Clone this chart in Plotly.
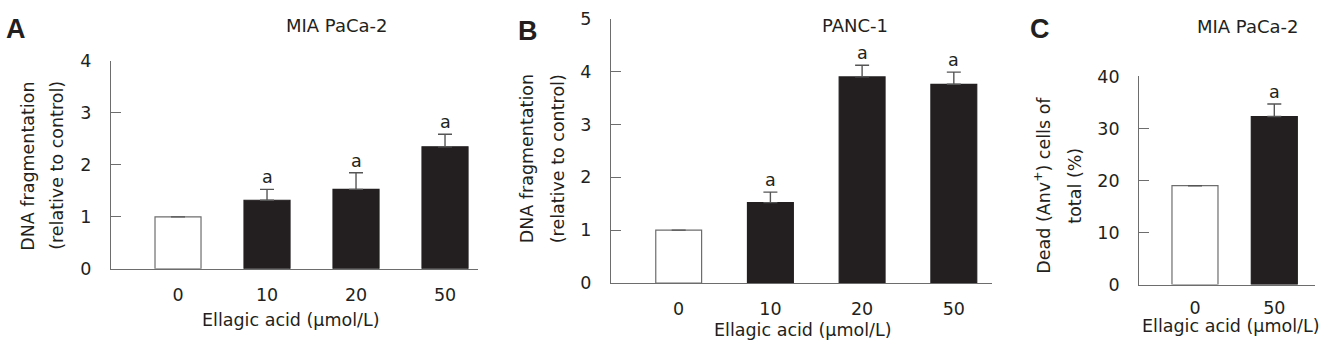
import plotly.graph_objects as go

# ---------------- data ----------------
a_doses = ["0", "10", "20", "50"]
a_values = [1.0, 1.32, 1.53, 2.35]
a_errors = [None, 0.21, 0.32, 0.24]
a_sig = ["", "a", "a", "a"]

b_doses = ["0", "10", "20", "50"]
b_values = [1.0, 1.52, 3.90, 3.76]
b_errors = [None, 0.20, 0.22, 0.23]
b_sig = ["", "a", "a", "a"]

c_doses = ["0", "50"]
c_values = [19.0, 32.3]
c_errors = [None, 2.4]
c_sig = ["", "a"]

W, H = 1328, 361
FONT = "DejaVu Sans"
TXT = "#231f20"
AX = "#6d6d6d"
BLACK = "#231f20"


def px(x):
    return x / W


def py(y):
    return 1 - y / H


panels = [
    dict(doses=a_doses, vals=a_values, errs=a_errors, sig=a_sig,
         xd=(111, 477.5), yd=(274, 54), xr=(-0.753, 3.365), yr=(0, 4), dt=1, bw=0.517, so=10),
    dict(doses=b_doses, vals=b_values, errs=b_errors, sig=b_sig,
         xd=(611, 991.7), yd=(289, 9.3), xr=(-0.738, 3.413), yr=(0, 5), dt=1, bw=0.50, so=10),
    dict(doses=c_doses, vals=c_values, errs=c_errors, sig=c_sig,
         xd=(1139.3, 1315), yd=(290.7, 70.3), xr=(-0.702, 1.513), yr=(0, 40), dt=10, bw=0.58, so=7),
]

fig = go.Figure()
layout = dict(
    width=W, height=H, margin=dict(l=0, r=0, t=0, b=0),
    paper_bgcolor="white", plot_bgcolor="white", showlegend=False,
    font=dict(family=FONT, size=17.5, color=TXT),
)
annotations = []

for i, p in enumerate(panels):
    n = i + 1
    xa = "x" if n == 1 else f"x{n}"
    ya = "y" if n == 1 else f"y{n}"
    colors = ["white" if j == 0 else BLACK for j in range(len(p["doses"]))]
    lines = [AX if j == 0 else BLACK for j in range(len(p["doses"]))]
    fig.add_trace(go.Bar(
        x=p["doses"], y=p["vals"], width=p["bw"],
        marker=dict(color=colors, line=dict(color=lines, width=1.2)),
        error_y=dict(type="data", symmetric=False, array=p["errs"],
                     arrayminus=[0] * len(p["vals"]),
                     color="#555555", thickness=1.4, width=7),
        xaxis=xa, yaxis=ya, hoverinfo="skip",
    ))
    for j, (v, e, s) in enumerate(zip(p["vals"], p["errs"], p["sig"])):
        if s:
            annotations.append(dict(
                x=j, y=v + (e or 0), xref=xa, yref=ya, text=s,
                showarrow=False, yanchor="middle", yshift=12,
                font=dict(family=FONT, size=17.5, color=TXT)))
    layout["xaxis" if n == 1 else f"xaxis{n}"] = dict(
        domain=[px(p["xd"][0]), px(p["xd"][1])], anchor=ya,
        type="category", range=list(p["xr"]),
        showline=True, linecolor=AX, linewidth=1.3,
        ticks="", showgrid=False, zeroline=False,
        ticklabelstandoff=p["so"], tickfont=dict(size=17.5),
    )
    layout["yaxis" if n == 1 else f"yaxis{n}"] = dict(
        domain=[py(p["yd"][0]), py(p["yd"][1])], anchor=xa,
        range=list(p["yr"]), dtick=p["dt"], tick0=0,
        showline=True, linecolor=AX, linewidth=1.3,
        ticks="inside", ticklen=10, tickcolor=AX, tickwidth=1.3,
        showgrid=False, zeroline=False,
        ticklabelstandoff=15, tickfont=dict(size=17.5),
    )

texts = [
    ("MIA PaCa-2", 337, 16, 0, 18),
    ("PANC-1", 855, 16, 0, 18),
    ("MIA PaCa-2", 1248, 17, 0, 18),
    ("Ellagic acid (\u03bcmol/L)", 291, 328, 0, 17.5),
    ("Ellagic acid (\u03bcmol/L)", 803, 339, 0, 17.5),
    ("Ellagic acid (\u03bcmol/L)", 1231, 335, 0, 17.5),
    ("DNA fragmentation", 28, 166, -90, 17.5),
    ("(relative to control)", 57, 165, -90, 17.5),
    ("DNA fragmentation", 527, 158, -90, 17.5),
    ("(relative to control)", 558, 158, -90, 17.5),
    ("Dead (Anv<sup>+</sup>) cells of", 1042, 186, -90, 17.5),
    ("total (%)", 1075, 186, -90, 17.5),
]
for t, x, y, ang, sz in texts:
    annotations.append(dict(
        text=t, x=px(x), y=py(y), xref="paper", yref="paper",
        xanchor="center", yanchor="middle", textangle=ang, showarrow=False,
        font=dict(family=FONT, size=sz, color=TXT)))

for t, x, y in [("A", 15.5, 20), ("B", 528, 22), ("C", 1040, 20)]:
    annotations.append(dict(
        text=f"<b>{t}</b>", x=px(x), y=py(y), xref="paper", yref="paper",
        xanchor="center", yanchor="middle", showarrow=False,
        font=dict(family="Liberation Sans", size=27, color=TXT)))

layout["annotations"] = annotations
fig.update_layout(**layout)
fig.write_html(
    "out.html",
    config={"displayModeBar": False},
    post_script="document.body.style.margin='0';document.body.style.padding='0';"
                "document.documentElement.style.overflow='hidden';",
)
